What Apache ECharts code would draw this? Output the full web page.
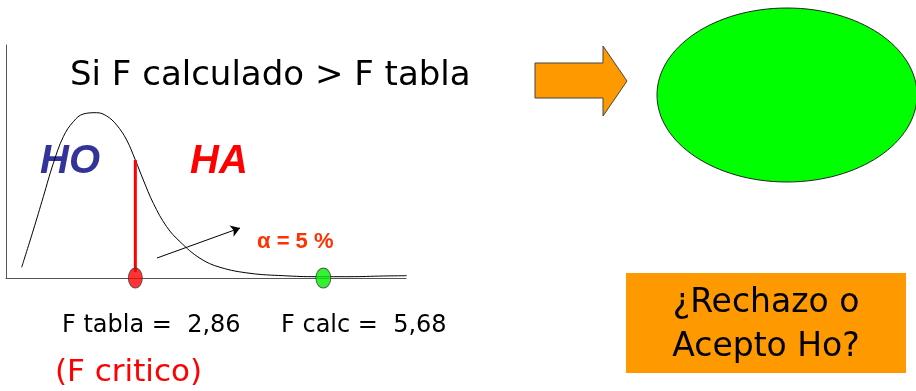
<!DOCTYPE html>
<html>
<head>
<meta charset="utf-8">
<script src="https://cdn.jsdelivr.net/npm/echarts@6/dist/echarts.min.js"></script>
<style>
  html, body { margin: 0; padding: 0; background: #fff; }
  #chart { width: 916px; height: 391px; }
</style>
</head>
<body>
<div id="chart"></div>
<script>
// curva de la distribucion F (forma aproximada)
const curveX = [1.155, 1.33, 1.48, 1.63, 1.78, 1.93, 2.08, 2.28, 2.43, 2.58, 2.73, 2.86, 2.98, 3.13, 3.33, 3.53, 3.83, 4.13, 4.58, 5.08, 5.58, 6.08, 6.58, 6.93];
const curveY = [10.7, 48, 81.3, 114.7, 141.3, 156.3, 164, 165.3, 162, 153, 138, 118, 98, 74.7, 51.3, 36.3, 19.7, 10.7, 4.7, 2.3, 1.3, 1.3, 2, 2.3];

const fTabla = 2.86;
const fCalc = 5.68;
const alpha = 5;
// flecha del area alfa: inicio y fin
const arrowFrom = [3.185, 20];
const arrowTo = [4.43, 50];

const fmt = v => v.toFixed(2).replace(".", ",");
const font = "'Comic Sans MS', 'DejaVu Sans', sans-serif";
const bold = "Arial, 'Liberation Sans', sans-serif";

const chart = echarts.init(document.getElementById("chart"));

const option = {
  animation: false,
  grid: { left: 6, right: 510, top: 45, bottom: 113, containLabel: false },
  xAxis: {
    type: "value",
    min: 0.92,
    max: 6.92,
    axisLine: { show: true, lineStyle: { color: "#555", width: 1 } },
    axisTick: { show: false },
    axisLabel: { show: false },
    splitLine: { show: false }
  },
  yAxis: {
    type: "value",
    min: 0,
    max: 233,
    axisLine: { show: true, lineStyle: { color: "#555", width: 1 } },
    axisTick: { show: false },
    axisLabel: { show: false },
    splitLine: { show: false }
  },
  series: [
    {
      type: "line",
      data: curveX.map((x, i) => [x, curveY[i]]),
      smooth: 0.4,
      symbol: "none",
      lineStyle: { color: "#000", width: 1 },
      markLine: {
        silent: true,
        symbol: ["none", "arrow"],
        symbolSize: 9,
        label: { show: false },
        lineStyle: { color: "#000", width: 1, type: "solid" },
        data: [[{ coord: arrowFrom }, { coord: arrowTo }]]
      }
    },
    {
      // linea de F tabla
      type: "line",
      data: [[fTabla, 6], [fTabla, 118]],
      symbol: "none",
      lineStyle: { color: "#ff0000", width: 3 }
    },
    {
      type: "scatter",
      data: [[fTabla, 0]],
      symbol: "circle",
      symbolSize: [14, 20],
      itemStyle: { color: "#ff0000", borderColor: "#333", borderWidth: 1 },
      z: 5
    },
    {
      type: "scatter",
      data: [[fCalc, 0]],
      symbol: "circle",
      symbolSize: [15, 20],
      itemStyle: { color: "#00ee00", borderColor: "#333", borderWidth: 1 },
      z: 5
    }
  ],
  graphic: [
    {
      type: "text", x: 70, y: 76,
      style: { text: "Si F calculado > F tabla", font: "34px " + font, fill: "#000", verticalAlign: "middle" }
    },
    {
      type: "text", left: 40, top: 142,
      style: { text: "HO", font: "italic bold 40px " + bold, fill: "#333399" }
    },
    {
      type: "text", left: 190, top: 142,
      style: { text: "HA", font: "italic bold 40px " + bold, fill: "#ff0000" }
    },
    {
      type: "text", x: 257, y: 242,
      style: { text: "α = " + alpha + " %", font: "bold 22px " + bold, fill: "#ff3300", verticalAlign: "middle" }
    },
    {
      type: "text", x: 62, y: 326,
      style: { text: "F tabla =  " + fmt(fTabla), font: "24px " + font, fill: "#000", verticalAlign: "middle" }
    },
    {
      type: "text", x: 281, y: 326,
      style: { text: "F calc =  " + fmt(fCalc), font: "24px " + font, fill: "#000", verticalAlign: "middle" }
    },
    {
      type: "text", x: 55, y: 373,
      style: { text: "(F critico)", font: "31px " + font, fill: "#ff0000", verticalAlign: "middle" }
    },
    {
      type: "polygon",
      shape: { points: [[535, 63], [603, 63], [603, 46], [627, 81], [603, 116], [603, 98], [535, 98]] },
      style: { fill: "#ff9900", stroke: "#444", lineWidth: 1 }
    },
    {
      type: "ellipse",
      shape: { cx: 787, cy: 95, rx: 130, ry: 87 },
      style: { fill: "#00ff00", stroke: "#222", lineWidth: 1 }
    },
    {
      type: "rect",
      shape: { x: 626, y: 273, width: 280, height: 100 },
      style: { fill: "#ff9900" }
    },
    {
      type: "text", x: 766, y: 303,
      style: { text: "¿Rechazo o", font: "33px " + font, fill: "#000", align: "center", verticalAlign: "middle" }
    },
    {
      type: "text", x: 766, y: 347,
      style: { text: "Acepto Ho?", font: "33px " + font, fill: "#000", align: "center", verticalAlign: "middle" }
    }
  ]
};

chart.setOption(option);
</script>
</body>
</html>
